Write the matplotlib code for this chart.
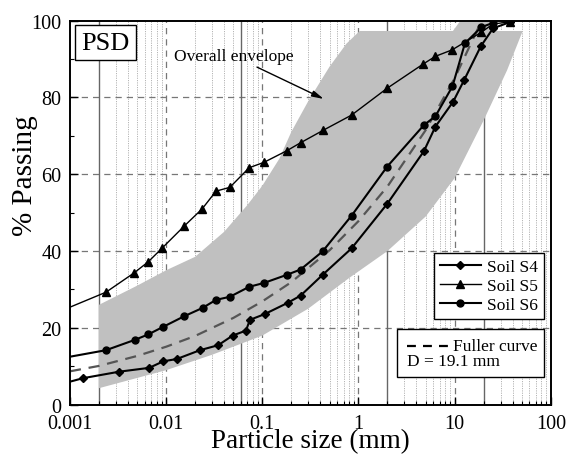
import matplotlib
matplotlib.use("Agg")
import matplotlib.pyplot as plt
import numpy as np
from matplotlib.lines import Line2D
from matplotlib.patches import Rectangle
from matplotlib.ticker import LogLocator, FixedLocator, NullFormatter

plt.rcParams['font.family'] = ['Liberation Serif', 'DejaVu Serif']

# soil S4 (diamonds)
s4_d = [0.001, 0.00136, 0.00325, 0.00667, 0.00933, 0.0129, 0.0225, 0.0348, 0.0491, 0.0676,
        0.0743, 0.106, 0.183, 0.25, 0.423, 0.847, 1.99, 4.79, 6.31, 9.66, 12.6, 18.7, 25.1, 37.5]
s4_p = [6.0, 6.9, 8.6, 9.6, 11.3, 11.9, 14.2, 15.5, 18.0, 19.3,
        22.1, 23.6, 26.5, 28.4, 33.8, 40.7, 52.3, 66.0, 72.4, 78.9, 84.6, 93.3, 98.0, 99.6]

# soil S5 (triangles)
s5_d = [0.001, 0.00237, 0.00463, 0.00651, 0.0091, 0.0154, 0.0237, 0.033, 0.046, 0.073,
        0.104, 0.179, 0.25, 0.426, 0.847, 1.99, 4.71, 6.31, 9.44, 19.0, 25.0, 37.5]
s5_p = [25.4, 29.3, 34.3, 37.2, 40.8, 46.5, 51.0, 55.6, 56.6, 61.7,
        63.1, 66.1, 68.2, 71.4, 75.4, 82.4, 88.7, 90.7, 92.4, 97.0, 99.1, 99.7]

# soil S6 (circles)
s6_d = [0.001, 0.00237, 0.00474, 0.00651, 0.00918, 0.0153, 0.0239, 0.033, 0.046, 0.073,
        0.104, 0.179, 0.25, 0.423, 0.847, 1.99, 4.79, 6.31, 9.5, 12.8, 19.0, 25.0]
s6_p = [12.5, 14.2, 16.9, 18.3, 20.2, 23.0, 25.2, 27.3, 28.1, 30.7,
        31.7, 33.8, 35.2, 39.9, 49.2, 62.0, 72.8, 75.1, 82.9, 94.1, 98.3, 99.4]

# Fuller curve, D = 19.1 mm
fuller_d = [0.001, 0.002, 0.005, 0.01, 0.02, 0.05, 0.1, 0.2, 0.5, 1, 2, 5, 10, 19.1]
fuller_p = [8.7, 10.1, 12.7, 15.1, 17.9, 22.6, 26.9, 31.9, 40.2, 47.8, 56.8, 71.5, 85.0, 100]

# overall envelope outline (upper edge left->right, lower edge right->left)
env_upper_d = [0.002, 0.005, 0.01, 0.02, 0.04, 0.07, 0.1, 0.15, 0.2, 0.3, 0.5, 0.75, 1.03,
               9.6, 11.5, 22, 28, 51]
env_upper_p = [26, 31, 35, 38.5, 45, 52, 57, 64, 71, 79, 88, 94, 97.3,
               97.3, 100, 100, 97.3, 97.3]
env_lower_d = [51, 35, 20, 10, 5, 2, 0.8, 0.3, 0.1, 0.03, 0.01, 0.002]
env_lower_p = [97.3, 87, 74, 59, 49, 40, 33, 25, 18, 13, 9, 4.3]

fig = plt.figure(figsize=(5.69, 4.60), dpi=100)
ax = fig.add_axes([0.123, 0.118, 0.845, 0.835])
ax.set_xscale('log')
ax.set_xlim(0.001, 100)
ax.set_ylim(0, 100)

# grid: dotted minors, dashed decades, solid class boundaries
for k in range(-3, 2):
    for m in range(2, 10):
        ax.axvline(m * 10.0**k, color='#b4b4b4', lw=0.7, ls=(0, (1.2, 1.2)), zorder=0)
for d in [0.01, 0.1, 1, 10]:
    ax.axvline(d, color='#777777', lw=0.9, ls=(0, (5, 4)), zorder=0.5)
for p in [20, 40, 60, 80]:
    ax.axhline(p, color='#777777', lw=0.9, ls=(0, (5, 4)), zorder=0.5)
for d in [0.002, 0.06, 2, 20]:
    ax.axvline(d, color='#666666', lw=1.0, zorder=0.6)

env_x = env_upper_d + env_lower_d
env_y = env_upper_p + env_lower_p
ax.fill(env_x, env_y, color='#c0c0c0', lw=0, zorder=1)

ax.plot(fuller_d, fuller_p, color='#555555', lw=1.6, ls=(0, (5, 3.5)), zorder=2)

l4, = ax.plot(s4_d, s4_p, color='k', lw=1.5, marker='D', ms=4.2,
              markevery=list(range(1, len(s4_d))), zorder=3)
l5, = ax.plot(s5_d, s5_p, color='k', lw=1.0, marker='^', ms=5.5,
              markevery=list(range(1, len(s5_d))), zorder=3)
l6, = ax.plot(s6_d, s6_p, color='k', lw=1.5, marker='o', ms=5,
              markevery=list(range(1, len(s6_d))), zorder=3)

ax.set_xticks([0.001, 0.01, 0.1, 1, 10, 100])
ax.set_xticklabels(['0.001', '0.01', '0.1', '1', '10', '100'])
ax.xaxis.set_minor_locator(LogLocator(base=10, subs=np.arange(2, 10)))
ax.xaxis.set_minor_formatter(NullFormatter())
ax.set_yticks([0, 20, 40, 60, 80, 100])
ax.yaxis.set_minor_locator(FixedLocator([10, 30, 50, 70, 90]))
ax.tick_params(axis='both', which='major', direction='in', length=6, width=1,
               labelsize=14.5, top=False, right=False)
ax.tick_params(axis='x', which='major', pad=7)
ax.tick_params(axis='y', which='major', pad=6)
ax.tick_params(axis='both', which='minor', direction='in', length=3, width=0.8,
               top=False, right=False)
for s in ax.spines.values():
    s.set_linewidth(1.4)

ax.set_xlabel('Particle size (mm)', fontsize=19.5)
ax.xaxis.set_label_coords(0.5, -0.062)
ax.set_ylabel('% Passing', fontsize=21)
ax.yaxis.set_label_coords(-0.067, 0.598)

ax.text(0.074, 0.943, 'PSD', transform=ax.transAxes, fontsize=19, ha='center', va='center',
        bbox=dict(boxstyle='square,pad=0.24', fc='white', ec='k', lw=1), zorder=6)

ax.text(0.0507, 90.8, 'Overall envelope', fontsize=12.5, ha='center', va='center', zorder=6)
ax.annotate('', xy=(0.436, 79.6), xytext=(0.088, 87.9),
            arrowprops=dict(arrowstyle='-|>,head_length=0.7,head_width=0.18', color='k',
                            lw=1, shrinkA=0, shrinkB=0), zorder=6)

leg = ax.legend([l4, l5, l6], ['Soil S4', 'Soil S5', 'Soil S6'], loc='lower right',
                bbox_to_anchor=(0.985, 0.223), fontsize=12.5, frameon=True, fancybox=False,
                edgecolor='k', framealpha=1, handlelength=2.4, handletextpad=0.3,
                labelspacing=0.15, borderpad=0.35, borderaxespad=0)
leg.get_frame().set_linewidth(1)
leg.set_zorder(7)

# Fuller curve box
ax.add_patch(Rectangle((0.680, 0.072), 0.305, 0.125, transform=ax.transAxes,
                       fc='white', ec='k', lw=1, zorder=7))
ax.add_line(Line2D([0.701, 0.795], [0.153, 0.153], transform=ax.transAxes,
                   color='k', lw=1.6, ls=(0, (4.0, 3.2)), zorder=8))
ax.text(0.797, 0.153, 'Fuller curve', transform=ax.transAxes, fontsize=12.5,
        ha='left', va='center', zorder=8)
ax.text(0.701, 0.113, 'D = 19.1 mm', transform=ax.transAxes, fontsize=12.5,
        ha='left', va='center', zorder=8)

fig.savefig('out.png', dpi=100)
